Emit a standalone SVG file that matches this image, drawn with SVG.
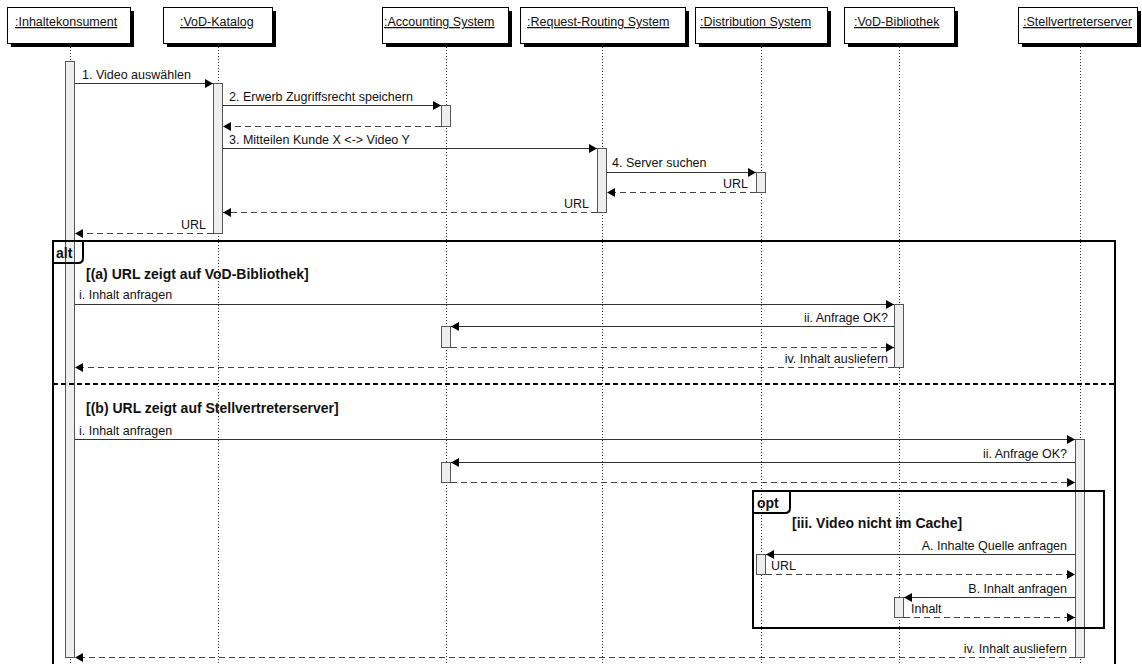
<svg xmlns="http://www.w3.org/2000/svg" width="1142" height="664" viewBox="0 0 1142 664">
  <style>
    text { font-family: "Liberation Sans", Arial, sans-serif; font-size: 12.5px; fill: #111; }
    .head { text-decoration: underline; }
    .bold { font-weight: bold; font-size: 14px; }
    .end { text-anchor: end; }
    .box { fill: #fff; stroke: #000; stroke-width: 1; }
    .shadow { fill: #000; }
    .life { stroke: #333; stroke-width: 1; stroke-dasharray: 1 2; fill: none; }
    .act { fill: #eeeeee; stroke: #555; stroke-width: 1; }
    .msg { stroke: #333; stroke-width: 1; fill: none; marker-end: url(#arrow); }
    .ret { stroke: #444; stroke-width: 1; stroke-dasharray: 6 4; fill: none; marker-end: url(#arrow); }
    .frame { fill: none; stroke: #000; stroke-width: 2; }
    .sep { stroke: #000; stroke-width: 2; stroke-dasharray: 5 3; fill: none; }
  </style>
  <defs>
    <marker id="arrow" markerUnits="userSpaceOnUse" viewBox="0 0 8 9" refX="8" refY="4.5" markerWidth="8" markerHeight="9" orient="auto">
      <path d="M0,0 L8,4.5 L0,9 z" fill="#000"/>
    </marker>
  </defs>
  <rect width="1142" height="664" fill="#fff"/>

  <!-- lifelines -->
  <g id="lifelines">
    <line class="life" x1="70.5" y1="47" x2="70.5" y2="664"/>
    <line class="life" x1="218.5" y1="47" x2="218.5" y2="664"/>
    <line class="life" x1="446.5" y1="47" x2="446.5" y2="664"/>
    <line class="life" x1="602.5" y1="47" x2="602.5" y2="664"/>
    <line class="life" x1="761.5" y1="47" x2="761.5" y2="664"/>
    <line class="life" x1="899.5" y1="47" x2="899.5" y2="664"/>
    <line class="life" x1="1080.5" y1="47" x2="1080.5" y2="664"/>
  </g>

  <!-- participants -->
  <g id="inhaltekonsument">
    <rect class="shadow" x="11" y="11" width="123" height="36"/>
    <rect class="box" x="7.5" y="7.5" width="123" height="36"/>
    <text class="head" x="15" y="26">:Inhaltekonsument </text>
    <rect class="act" x="65.5" y="61.5" width="9" height="596"/>
  </g>
  <g id="vod-katalog">
    <rect class="shadow" x="167" y="11" width="109" height="36"/>
    <rect class="box" x="163.5" y="7.5" width="109" height="36"/>
    <text class="head" x="180" y="26">:VoD-Katalog</text>
    <rect class="act" x="213.5" y="83.5" width="9" height="150"/>
  </g>
  <g id="accounting-system">
    <rect class="shadow" x="386" y="11" width="126" height="36"/>
    <rect class="box" x="382.5" y="7.5" width="126" height="36"/>
    <text class="head" x="384" y="26">:Accounting System</text>
    <rect class="act" x="441.5" y="105.5" width="9" height="21"/>
    <rect class="act" x="441.5" y="326.5" width="9" height="21"/>
    <rect class="act" x="441.5" y="462.5" width="9" height="20"/>
  </g>
  <g id="request-routing-system">
    <rect class="shadow" x="524" y="11" width="165" height="36"/>
    <rect class="box" x="520.5" y="7.5" width="165" height="36"/>
    <text class="head" x="527" y="26">:Request-Routing System </text>
    <rect class="act" x="597.5" y="148.5" width="9" height="64"/>
  </g>
  <g id="distribution-system">
    <rect class="shadow" x="699" y="11" width="132" height="36"/>
    <rect class="box" x="695.5" y="7.5" width="132" height="36"/>
    <text class="head" x="700" y="26">:Distribution System </text>
    <rect class="act" x="756.5" y="172.5" width="9" height="20"/>
    <rect class="act" x="756.5" y="554.5" width="9" height="20"/>
  </g>
  <g id="vod-bibliothek">
    <rect class="shadow" x="848" y="11" width="110" height="36"/>
    <rect class="box" x="844.5" y="7.5" width="110" height="36"/>
    <text class="head" x="854" y="26">:VoD-Bibliothek</text>
    <rect class="act" x="894.5" y="304.5" width="9" height="63"/>
    <rect class="act" x="894.5" y="597.5" width="9" height="20"/>
  </g>
  <g id="stellvertreterserver">
    <rect class="shadow" x="1022" y="11" width="119" height="36"/>
    <rect class="box" x="1018.5" y="7.5" width="119" height="36"/>
    <text class="head" x="1023" y="26">:Stellvertreterserver</text>
    <rect class="act" x="1075.5" y="439.5" width="9" height="218"/>
  </g>

  <!-- combined fragments -->
  <g id="alt-fragment">
    <rect class="frame" x="53" y="241" width="1062" height="440"/>
    <path class="frame" d="M53,263 H78 Q83,263 83,258 V241"/>
    <text class="bold" x="56" y="258">alt</text>
    <text class="bold" x="86" y="279">[(a) URL zeigt auf VoD-Bibliothek]</text>
    <line class="sep" x1="53" y1="384" x2="1115" y2="384"/>
    <text class="bold" x="86" y="413">[(b) URL zeigt auf Stellvertreterserver]</text>
  </g>
  <g id="opt-fragment">
    <rect class="frame" x="753" y="491" width="351" height="137"/>
    <path class="frame" d="M753,513 H785 Q790,513 790,508 V491"/>
    <text class="bold" x="757" y="508">opt</text>
    <text class="bold" x="792" y="528">[iii. Video nicht im Cache]</text>
  </g>

  <!-- messages -->
  <g id="connectors">
    <line class="msg" x1="75" y1="83.5" x2="213" y2="83.5"/>
    <line class="msg" x1="223" y1="105.5" x2="441" y2="105.5"/>
    <line class="ret" x1="441" y1="126.5" x2="223" y2="126.5"/>
    <line class="msg" x1="223" y1="148.5" x2="597" y2="148.5"/>
    <line class="msg" x1="607" y1="172.5" x2="756" y2="172.5"/>
    <line class="ret" x1="756" y1="192.5" x2="607" y2="192.5"/>
    <line class="ret" x1="597" y1="212.5" x2="223" y2="212.5"/>
    <line class="ret" x1="213" y1="233.5" x2="75" y2="233.5"/>

    <line class="msg" x1="75" y1="304.5" x2="894" y2="304.5"/>
    <line class="msg" x1="894" y1="326.5" x2="451" y2="326.5"/>
    <line class="ret" x1="451" y1="347.5" x2="894" y2="347.5"/>
    <line class="ret" x1="894" y1="367.5" x2="75" y2="367.5"/>

    <line class="msg" x1="75" y1="439.5" x2="1075" y2="439.5"/>
    <line class="msg" x1="1075" y1="462.5" x2="451" y2="462.5"/>
    <line class="ret" x1="451" y1="482.5" x2="1075" y2="482.5"/>
    <line class="msg" x1="1075" y1="554.5" x2="766" y2="554.5"/>
    <line class="ret" x1="766" y1="574.5" x2="1075" y2="574.5"/>
    <line class="msg" x1="1075" y1="597.5" x2="904" y2="597.5"/>
    <line class="ret" x1="904" y1="617.5" x2="1075" y2="617.5"/>
    <line class="ret" x1="1075" y1="657.5" x2="75" y2="657.5"/>
  </g>

  <!-- message labels -->
  <g id="labels">
    <text x="82" y="79">1. Video auswählen</text>
    <text x="229" y="101">2. Erwerb Zugriffsrecht speichern</text>
    <text x="229" y="144">3. Mitteilen Kunde X &lt;-&gt; Video Y</text>
    <text x="612" y="167">4. Server suchen</text>
    <text class="end" x="748" y="188">URL</text>
    <text class="end" x="589" y="208">URL</text>
    <text class="end" x="206" y="229">URL</text>

    <text x="79" y="299">i. Inhalt anfragen</text>
    <text class="end" x="888" y="322">ii. Anfrage OK?</text>
    <text class="end" x="888" y="363">iv. Inhalt ausliefern</text>

    <text x="79" y="435">i. Inhalt anfragen</text>
    <text class="end" x="1067" y="458">ii. Anfrage OK?</text>
    <text class="end" x="1067" y="550">A. Inhalte Quelle anfragen</text>
    <text x="771" y="570">URL</text>
    <text class="end" x="1067" y="593">B. Inhalt anfragen</text>
    <text x="911" y="613">Inhalt</text>
    <text class="end" x="1067" y="653">iv. Inhalt ausliefern</text>
  </g>
</svg>
